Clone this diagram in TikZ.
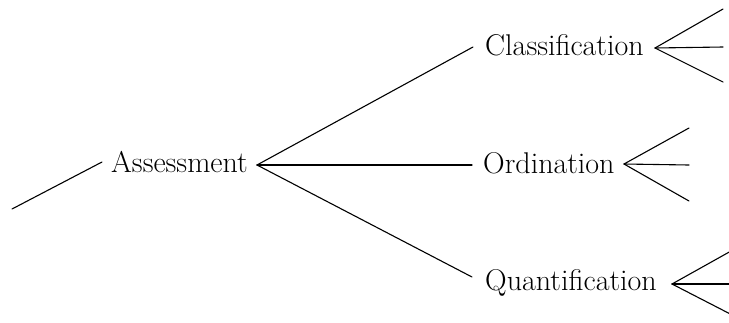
\documentclass[tikz,border=0pt]{standalone}
\begin{document}
\begin{tikzpicture}[x=1bp, y=-1bp,
  term/.style={inner sep=0pt, anchor=base west, font=\fontsize{30bp}{35bp}\selectfont},
  branch/.style={line width=1.1bp, line cap=round}]
\useasboundingbox (0,0) rectangle (729,322);
\clip (0,0) rectangle (729,322);

% terms of the tree
\node[term] (assess) at (111,172) {Assessment};
\node[term] (class)  at (485,55)  {Classification};
\node[term] (ord)    at (483,173) {Ordination};
\node[term] (quant)  at (485,290) {Quantification};

% junction points beside each term
\coordinate (root)     at (12,209);
\coordinate (assessIn) at (102,162);
\coordinate (assessOut) at (257,165);
\coordinate (classIn)  at (473,47);
\coordinate (classOut) at (655,48);
\coordinate (ordIn)    at (472,165);
\coordinate (ordOut)   at (624,164);
\coordinate (quantIn)  at (472,277);
\coordinate (quantOut) at (672,284);

% open ends of the next level
\coordinate (c1) at (723,9);
\coordinate (c2) at (723,47);
\coordinate (c3) at (723,82);
\coordinate (o1) at (689,128);
\coordinate (o2) at (689,165);
\coordinate (o3) at (689,201);
\coordinate (q1) at (740,246);
\coordinate (q2) at (740,284);
\coordinate (q3) at (740,319);

\draw[branch] (root) -- (assessIn);
\draw[branch] (assessOut) -- (classIn);
\draw[branch] (assessOut) -- (ordIn);
\draw[branch] (assessOut) -- (quantIn);

\draw[branch] (classOut) -- (c1);
\draw[branch] (classOut) -- (c2);
\draw[branch] (classOut) -- (c3);

\draw[branch] (ordOut) -- (o1);
\draw[branch] (ordOut) -- (o2);
\draw[branch] (ordOut) -- (o3);

\draw[branch] (quantOut) -- (q1);
\draw[branch] (quantOut) -- (q2);
\draw[branch] (quantOut) -- (q3);
\end{tikzpicture}
\end{document}
